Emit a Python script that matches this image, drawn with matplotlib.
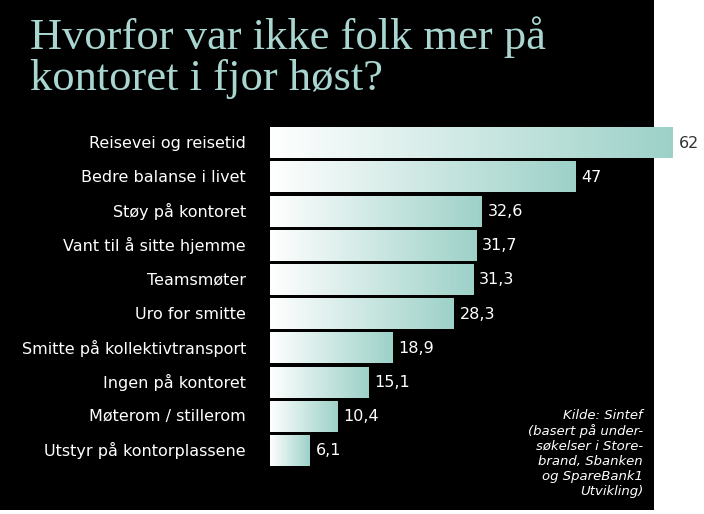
import matplotlib.pyplot as plt
import numpy as np
from matplotlib.colors import LinearSegmentedColormap
from matplotlib.patches import Rectangle

categories = ['Reisevei og reisetid', 'Bedre balanse i livet', 'Støy på kontoret',
              'Vant til å sitte hjemme', 'Teamsmøter', 'Uro for smitte',
              'Smitte på kollektivtransport', 'Ingen på kontoret',
              'Møterom / stillerom', 'Utstyr på kontorplassene']
values = [62, 47, 32.6, 31.7, 31.3, 28.3, 18.9, 15.1, 10.4, 6.1]
value_labels = ['62', '47', '32,6', '31,7', '31,3', '28,3', '18,9', '15,1', '10,4', '6,1']
title = 'Hvorfor var ikke folk mer på\nkontoret i fjor høst?'
source = 'Kilde: Sintef\n(basert på under-\nsøkelser i Store-\nbrand, Sbanken\nog SpareBank1\nUtvikling)'

W, H = 704, 514
fig = plt.figure(figsize=(W / 100, H / 100), dpi=100, facecolor='white')

#black panel, the right strip stays white
fig.patches.append(Rectangle((0, 4 / H), 654 / W, 1 - 4 / H, transform=fig.transFigure,
                             facecolor='black', zorder=-10))

x0, px_per_unit = 270, 6.5
top, bottom = 126, 468
ax = fig.add_axes([x0 / W, 1 - bottom / H, 1 - x0 / W, (bottom - top) / H])
ax.set_zorder(5)
ax.axis('off')
ax.patch.set_alpha(0)

cmap = LinearSegmentedColormap.from_list('bar', ['#ffffff', '#9dd1c8'])
grad = np.linspace(0, 1, 256).reshape(1, -1)
bh = 0.44
for i, (v, lab, cat) in enumerate(zip(values, value_labels, categories)):
    ax.imshow(grad, cmap=cmap, aspect='auto', extent=(0, v, i + bh, i - bh), zorder=2)
    col = '#333333' if i == 0 else 'white'
    ax.text(v + 0.9, i, lab, color=col, fontsize=11.5, va='center', ha='left', family='DejaVu Sans')
    ax.text(-3.7, i, cat, color='white', fontsize=11.5, va='center', ha='right',
            family='DejaVu Sans', clip_on=False)
ax.set_xlim(0, (W - x0) / px_per_unit)
ax.set_ylim(len(values) - 0.5, -0.5)

fig.text(30 / W, 1 - 16 / H, title, color='#a9d6d0', fontsize=32, family='Liberation Serif',
         va='top', ha='left', linespacing=1.05, zorder=5)
fig.text(643 / W, 1 - 498 / H, source, color='white', fontsize=9.5, style='italic',
         ha='right', va='bottom', family='DejaVu Sans', linespacing=1.2, zorder=5)

fig.savefig('out.png', dpi=100, facecolor=fig.get_facecolor())
